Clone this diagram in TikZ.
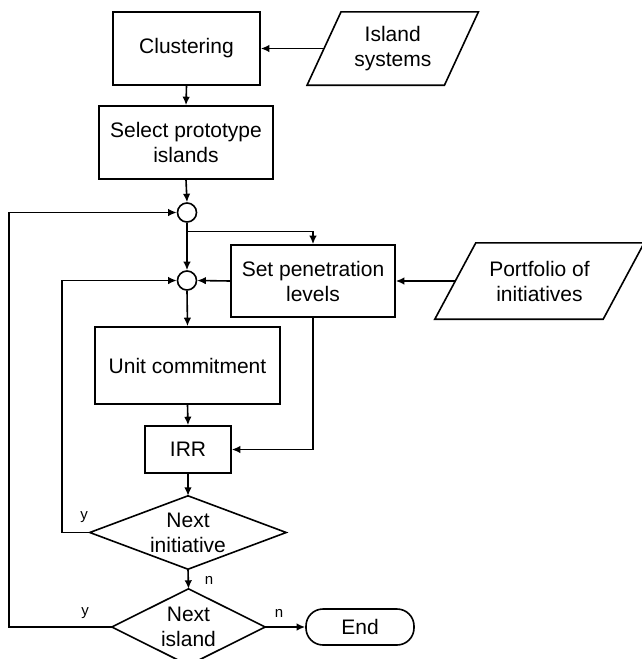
\documentclass[tikz,border=0pt]{standalone}
\usepackage{fontspec}
\setmainfont{Liberation Sans}
\usetikzlibrary{arrows.meta}
\begin{document}
\begin{tikzpicture}[x=1pt,y=-1pt,
  every node/.style={font=\fontsize{21}{25}\selectfont, align=center, inner sep=0pt},
  proc/.style={draw, line width=1.6pt},
  conn/.style={draw, circle, line width=1.6pt, minimum size=19pt},
  ln/.style={line width=1.6pt},
  arr/.style={line width=1.6pt, -{Latex[length=8.5pt,width=7.5pt]}},
  lab/.style={font=\fontsize{15}{17}\selectfont}]
\useasboundingbox (0,0) rectangle (641,659);
% process boxes
\node[proc, minimum width=147pt, minimum height=73pt] (clus) at (186.5,48.5) {Clustering};
\node[proc, minimum width=174pt, minimum height=73pt] (sel) at (186,142.5) {Select prototype\\islands};
\node[proc, minimum width=164pt, minimum height=72pt] (pen) at (313,281) {Set penetration\\levels};
\node[proc, minimum width=185pt, minimum height=77pt] (uc) at (187.5,365.5) {Unit commitment};
\node[proc, minimum width=86pt, minimum height=47pt] (irr) at (188,449.5) {IRR};
% connectors (circles)
\node[conn] (c1) at (187,212.5) {};
\node[conn] (c2) at (187,280.5) {};
% inputs (parallelograms)
\node[minimum width=137pt, minimum height=73pt] (isl) at (392.75,48.5) {Island\\systems};
\draw[ln] ([xshift=17pt]isl.north west) -- ([xshift=17pt]isl.north east)
  -- ([xshift=-17pt]isl.south east) -- ([xshift=-17pt]isl.south west) -- cycle;
\node[minimum width=168pt, minimum height=76pt] (port) at (539.5,281) {Portfolio of\\initiatives};
\draw[ln] ([xshift=20.5pt]port.north west) -- ([xshift=20.5pt]port.north east)
  -- ([xshift=-20.5pt]port.south east) -- ([xshift=-20.5pt]port.south west) -- cycle;
% decisions
\node[minimum width=196pt, minimum height=73pt] (ni1) at (188,532.5) {Next\\initiative};
\draw[ln] (ni1.north) -- (ni1.east) -- (ni1.south) -- (ni1.west) -- cycle;
\node[minimum width=153pt, minimum height=76pt] (ni2) at (188.5,627) {Next\\island};
\draw[ln] (ni2.north) -- (ni2.east) -- (ni2.south) -- (ni2.west) -- cycle;
% terminator
\node[draw, line width=1.6pt, rounded corners=17pt, minimum width=108pt, minimum height=36pt] (end) at (360,627) {End};
% edges
\draw[arr] (isl.west) -- (clus.east);
\draw[arr] (clus.south) -- (sel.north);
\draw[arr] (sel.south) -- (c1.north);
\draw[arr] (c1.south) -- (c2.north);
\coordinate (br) at (187,231.5);
\draw[arr] (br) -| (pen.north);
\draw[arr] (pen.west) -- (c2.east);
\draw[arr] (port.west) -- (pen.east);
\draw[arr] (c2.south) -- (uc.north);
\draw[arr] (uc.south) -- (irr.north);
\draw[arr] (pen.south) |- (irr.east);
\draw[arr] (irr.south) -- (ni1.north);
\coordinate (lp1) at (62,532.5);
\draw[arr] (ni1.west) -- (lp1) |- (c2.west);
\draw[arr] (ni1.south) -- (ni2.north);
\coordinate (lp2) at (9,627);
\draw[arr] (ni2.west) -- (lp2) |- (c1.west);
\draw[arr] (ni2.east) -- (end.west);
% labels
\node[lab] (ly1) at (84,517) {y};
\node[lab] (ln1) at (209,580) {n};
\node[lab] (ly2) at (85,613) {y};
\node[lab] (ln2) at (279,613) {n};
\end{tikzpicture}
\end{document}
